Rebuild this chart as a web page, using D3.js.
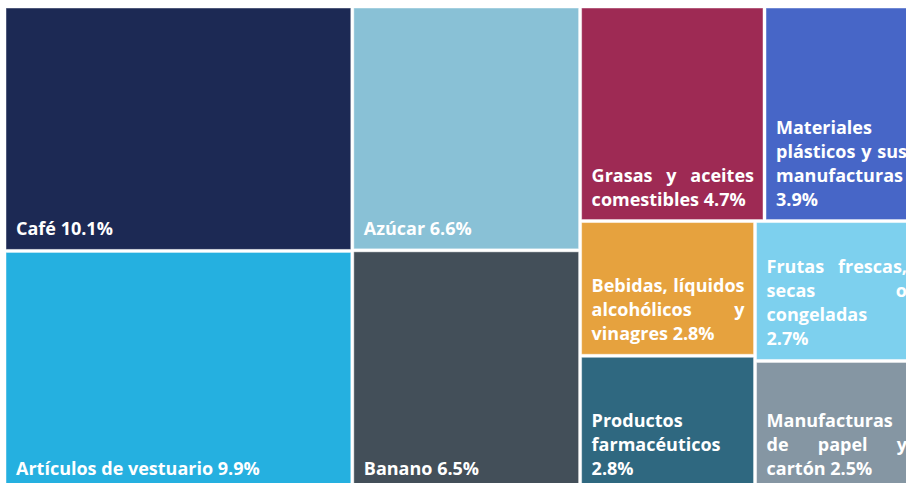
<!DOCTYPE html>
<html>
<head>
<meta charset="utf-8">
<script src="https://cdn.jsdelivr.net/npm/d3@7"></script>
<style>
  html, body { margin: 0; padding: 0; background: #fff; overflow: hidden; }
  svg { display: block; }
</style>
</head>
<body>
<div id="chart"></div>
<script>
// product categories and their share (%)
var categories = [
  "Café", "Artículos de vestuario", "Azúcar", "Banano",
  "Grasas y aceites comestibles", "Materiales plásticos y sus manufacturas",
  "Bebidas, líquidos alcohólicos y vinagres", "Productos farmacéuticos",
  "Frutas frescas, secas o congeladas", "Manufacturas de papel y cartón"
];
var shares = [10.1, 9.9, 6.6, 6.5, 4.7, 3.9, 2.8, 2.8, 2.7, 2.5];
var colors = [
  "#1c2954", "#25b0e0", "#89c1d6", "#434f59",
  "#9e2a54", "#4766c7", "#e6a23e", "#2f6880",
  "#7dd0ee", "#8596a3"
];

var width = 906;
var height = 483;
var margin = { left: 6, top: 8 };
// the treemap is a bit bigger than the window, it gets cut on the right/bottom
var mapWidth = 910;
var mapHeight = 481;

var fontFamily = "'Open Sans', sans-serif";
var fontWeight = 700;
var fontSize = 18;
var lineHeight = 24;
var padLeft = 10;
var padWrap = 10;     // right margin used when breaking lines
var padJustify = 9;   // right margin the justified lines stretch to

var svg = d3.select("#chart").append("svg")
  .attr("width", width)
  .attr("height", height);

var g = svg.append("g")
  .attr("transform", "translate(" + margin.left + "," + margin.top + ")");

var data = categories.map(function (c, i) {
  return { name: c, value: shares[i], color: colors[i] };
});

var root = d3.hierarchy({ children: data })
  .sum(function (d) { return d.value; })
  .sort(function (a, b) { return b.value - a.value; });

d3.treemap()
  .tile(d3.treemapSquarify.ratio(1))
  .size([mapWidth, mapHeight])
  .paddingInner(3)
  .round(false)(root);

var cells = g.selectAll("g.cell")
  .data(root.leaves())
  .join("g")
  .attr("class", "cell")
  .attr("transform", function (d) { return "translate(" + d.x0 + "," + d.y0 + ")"; });

cells.append("rect")
  .attr("width", function (d) { return d.x1 - d.x0; })
  .attr("height", function (d) { return d.y1 - d.y0; })
  .attr("fill", function (d) { return d.data.color; })
  .attr("stroke", "rgba(255,255,255,0.45)")
  .attr("stroke-width", 1);

// helper to measure a word
var measure = svg.append("text")
  .attr("font-family", fontFamily)
  .attr("font-weight", fontWeight)
  .attr("font-size", fontSize)
  .attr("visibility", "hidden");

function textWidth(s) {
  measure.text(s);
  return measure.node().getComputedTextLength();
}

cells.each(function (d) {
  var cell = d3.select(this);
  var w = d.x1 - d.x0;
  var h = d.y1 - d.y0;
  var wrapWidth = w - padLeft - padWrap;
  var lineWidth = w - padLeft - padJustify;
  var words = (d.data.name + " " + d3.format(".1f")(d.data.value) + "%").split(" ");
  var spaceW = textWidth("a a") - textWidth("aa");

  // greedy wrap
  var lines = [];
  var cur = [];
  words.forEach(function (word) {
    var test = cur.concat([word]).join(" ");
    if (cur.length && textWidth(test) > wrapWidth) {
      lines.push(cur);
      cur = [word];
    } else {
      cur.push(word);
    }
  });
  if (cur.length) lines.push(cur);

  var text = cell.append("text")
    .attr("font-family", fontFamily)
    .attr("font-weight", fontWeight)
    .attr("font-size", fontSize)
    .attr("fill", "#fff");

  // labels sit at the bottom of the cell, lines justified except the last one
  var baseY = h - 14 - (lines.length - 1) * lineHeight;

  lines.forEach(function (line, li) {
    var y = baseY + li * lineHeight;
    var last = li === lines.length - 1;
    var widths = line.map(textWidth);
    var gap = spaceW;
    if (!last && line.length > 1) {
      gap = (lineWidth - d3.sum(widths)) / (line.length - 1);
    }
    var x = padLeft;
    line.forEach(function (word, wi) {
      text.append("tspan")
        .attr("x", x)
        .attr("y", y)
        .text(word);
      x += widths[wi] + gap;
    });
  });
});

measure.remove();
</script>
</body>
</html>
